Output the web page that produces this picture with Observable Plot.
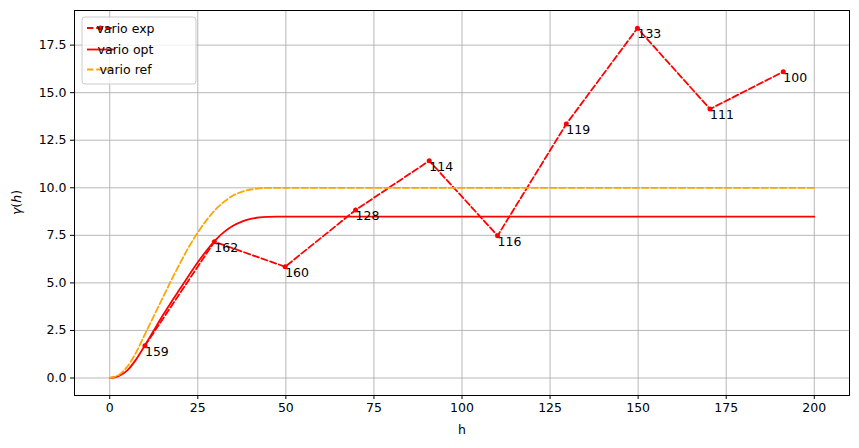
<!DOCTYPE html>
<html>
<head>
<meta charset="utf-8">
<script src="https://cdn.jsdelivr.net/npm/d3@7"></script>
<script src="https://cdn.jsdelivr.net/npm/@observablehq/plot@0.6"></script>
<style>
  html, body { margin: 0; padding: 0; background: #fff; }
  #chart { width: 859px; height: 448px; }
</style>
</head>
<body>
<div id="chart"></div>
<script>
// Experimental variogram
const expH = [10, 29.7, 49.8, 69.8, 90.7, 110.1, 129.6, 149.8, 170.4, 191.2];
const expGamma = [1.70, 7.16, 5.85, 8.83, 11.42, 7.48, 13.35, 18.39, 14.14, 16.10];
const expCounts = ["159", "162", "160", "128", "114", "116", "119", "133", "111", "100"];

// Fitted (opt) model curve
const optH = [0, 2.5, 5, 7.5, 10, 12.5, 15, 17.5, 20, 22.5, 25, 27.5, 30, 32.5, 35, 37.5, 40, 42.5, 45, 47.5, 200];
const optGamma = [0, 0.1, 0.4, 0.98, 1.72, 2.5, 3.27, 4.0, 4.7, 5.4, 6.08, 6.7, 7.25, 7.68, 8.0, 8.22, 8.36, 8.44, 8.47, 8.48, 8.48];

// Reference model curve
const refH = [0, 2.5, 5, 7.5, 10, 12.5, 15, 17.5, 20, 22.5, 25, 27.5, 30, 32.5, 35, 37.5, 40, 42.5, 45, 200];
const refGamma = [0, 0.15, 0.6, 1.35, 2.3, 3.25, 4.2, 5.15, 6.05, 6.9, 7.65, 8.3, 8.85, 9.27, 9.59, 9.79, 9.91, 9.97, 10, 10];

const xTicks = [0, 25, 50, 75, 100, 125, 150, 175, 200];
const yTicks = [0, 2.5, 5, 7.5, 10, 12.5, 15, 17.5];

const legendLabels = ["vario exp", "vario opt", "vario ref"];

const expData = expH.map((h, i) => ({h, g: expGamma[i], n: expCounts[i]}));
const optData = optH.map((h, i) => ({h, g: optGamma[i]}));
const refData = refH.map((h, i) => ({h, g: refGamma[i]}));

const font = "DejaVu Sans, sans-serif";
const dash = "6.4,2.8";
const lw = 1.8;

const plot = Plot.plot({
  width: 859,
  height: 448,
  marginLeft: 74,
  marginRight: 10,
  marginTop: 10,
  marginBottom: 53,
  style: {fontFamily: font, fontSize: "12.5px", color: "#000", background: "#fff"},
  x: {domain: [-10, 210]},
  y: {domain: [-0.92, 19.32]},
  marks: [
    Plot.gridX(xTicks, {stroke: "#b0b0b0", strokeOpacity: 1, strokeWidth: 0.9}),
    Plot.gridY(yTicks, {stroke: "#b0b0b0", strokeOpacity: 1, strokeWidth: 0.9}),
    Plot.line(expData, {x: "h", y: "g", stroke: "red", strokeWidth: lw, strokeDasharray: dash}),
    Plot.dot(expData, {x: "h", y: "g", fill: "red", r: 2.5}),
    Plot.line(optData, {x: "h", y: "g", stroke: "red", strokeWidth: lw, curve: "monotone-x"}),
    Plot.line(refData, {x: "h", y: "g", stroke: "orange", strokeWidth: lw, strokeDasharray: dash, curve: "monotone-x"}),
    Plot.text(expData, {x: "h", y: "g", text: "n", textAnchor: "start", lineAnchor: "top", dx: 0, dy: 1, fill: "#000", fontSize: 12.5}),
    Plot.frame({stroke: "#000", strokeWidth: 1}),
    Plot.axisX(xTicks, {tickSize: 4, tickPadding: 4, tickFormat: d => String(d), label: "h", labelAnchor: "center", labelArrow: "none", labelOffset: 38}),
    Plot.axisY(yTicks, {tickSize: 4, tickPadding: 4, tickFormat: d => d.toFixed(1), label: null})
  ]
});

document.getElementById("chart").appendChild(plot);

const svg = d3.select(plot);

// y-axis label: γ(h) with mathtext italics
const yl = svg.append("text")
  .attr("transform", "translate(21,202.5) rotate(-90)")
  .attr("text-anchor", "middle")
  .attr("font-family", font)
  .attr("font-size", "12.5px")
  .attr("fill", "#000");
yl.append("tspan").attr("font-style", "italic").text("γ");
yl.append("tspan").text("(");
yl.append("tspan").attr("font-style", "italic").text("h");
yl.append("tspan").text(")");

// Legend (upper left, inside axes)
const lg = svg.append("g").attr("font-family", font).attr("font-size", "12.5px");
lg.append("rect").attr("x", 82).attr("y", 17).attr("width", 114).attr("height", 67)
  .attr("rx", 3).attr("fill", "#fff").attr("fill-opacity", 0.8).attr("stroke", "#cccccc").attr("stroke-width", 1);
const rows = [28, 49.5, 69.5];
const styles = [
  {stroke: "red", dash: dash, dot: true},
  {stroke: "red", dash: null, dot: false},
  {stroke: "orange", dash: dash, dot: false}
];
rows.forEach((y, i) => {
  const l = lg.append("line").attr("x1", 87).attr("x2", 114).attr("y1", y).attr("y2", y)
    .attr("stroke", styles[i].stroke).attr("stroke-width", lw);
  if (styles[i].dash) l.attr("stroke-dasharray", styles[i].dash);
  if (styles[i].dot) lg.append("circle").attr("cx", 100.5).attr("cy", y).attr("r", 2.5).attr("fill", "red");
  lg.append("text").attr("x", 125.5).attr("y", y + 4.5).attr("fill", "#000").text(legendLabels[i]);
});
</script>
</body>
</html>
